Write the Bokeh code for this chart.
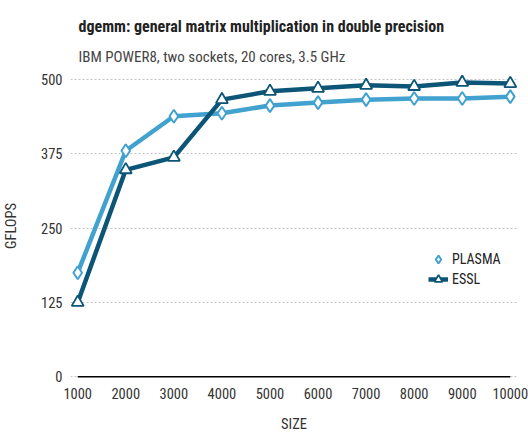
from bokeh.plotting import figure
from bokeh.models import Range1d, FixedTicker, Title, Legend, LegendItem
from bokeh.embed import file_html
from bokeh.resources import INLINE

sizes = [1000, 2000, 3000, 4000, 5000, 6000, 7000, 8000, 9000, 10000]
plasma = [175, 380, 438, 443, 456, 461, 466, 468, 468, 471]
essl = [125, 348, 369, 466, 480, 485, 490, 488, 495, 493]
y_ticks = [0, 125, 250, 375, 500]

FONT = "'Roboto Condensed', 'DejaVu Sans Condensed', Roboto"
C_PLASMA = "#41a1cf"
C_ESSL = "#0c5577"

p = figure(width=528, height=435, output_backend="svg", toolbar_location=None,
           x_range=Range1d(850, 10150), y_range=Range1d(-8, 515),
           min_border_left=70, min_border_right=11, min_border_top=70, min_border_bottom=54)
p.outline_line_color = None
p.background_fill_color = "white"

# titles (first added sits on top)
p.title.text = "dgemm: general matrix multiplication in double precision"
p.title.text_font = FONT
p.title.text_font_style = "bold"
p.title.text_font_size = "16px"
p.title.text_color = "#222222"
p.title.offset = 8
t2 = Title(text="IBM POWER8, two sockets, 20 cores, 3.5 GHz",
           text_font=FONT, text_font_style="normal", text_font_size="15px",
           text_color="#444444", offset=8)
p.add_layout(t2, "above")

# axes
p.xaxis.ticker = FixedTicker(ticks=sizes)
p.yaxis.ticker = FixedTicker(ticks=y_ticks)
for ax in (p.xaxis[0], p.yaxis[0]):
    ax.major_tick_line_color = None
    ax.minor_tick_line_color = None
    ax.major_tick_out = 0
    ax.major_tick_in = 0
    ax.minor_tick_out = 0
    ax.minor_tick_in = 0
    ax.major_label_text_font = FONT
    ax.major_label_text_font_size = "14.5px"
    ax.major_label_text_color = "#333333"
    ax.axis_label_text_font = FONT
    ax.axis_label_text_font_size = "14.5px"
    ax.axis_label_text_font_style = "normal"
    ax.axis_label_text_color = "#333333"
    ax.axis_line_color = None
p.xaxis.axis_label = "SIZE"
p.yaxis.axis_label = "GFLOPS"
p.xaxis.major_label_standoff = 6
p.yaxis.major_label_standoff = 8
p.xaxis.axis_label_standoff = 14
p.yaxis.axis_label_standoff = 18

p.xgrid.grid_line_color = None
p.ygrid.grid_line_color = "#c4c4c4"
p.ygrid.grid_line_dash = "2 2"
p.ygrid.grid_line_width = 1.2

# baseline at zero across data extent
p.line([min(sizes), max(sizes)], [0, 0], line_color="black", line_width=1.5)

lp = p.line(sizes, plasma, line_color=C_PLASMA, line_width=4.5)
mp = p.scatter(sizes, plasma, marker="diamond", size=13, fill_color="white",
               line_color=C_PLASMA, line_width=2)
le = p.line(sizes, essl, line_color=C_ESSL, line_width=4.5)
me = p.scatter(sizes, essl, marker="triangle", size=12, fill_color="white",
               line_color=C_ESSL, line_width=1.8)

legend = Legend(items=[LegendItem(label="PLASMA", renderers=[mp]),
                       LegendItem(label="ESSL", renderers=[le, me])],
                location=(358, 92), border_line_color=None, background_fill_alpha=0,
                label_text_font=FONT, label_text_font_size="14px",
                label_text_color="#222222", glyph_width=20, glyph_height=20,
                spacing=0, padding=0, margin=0, label_standoff=4)
p.add_layout(legend, "center")

open("out.html", "w").write(file_html(p, INLINE))
